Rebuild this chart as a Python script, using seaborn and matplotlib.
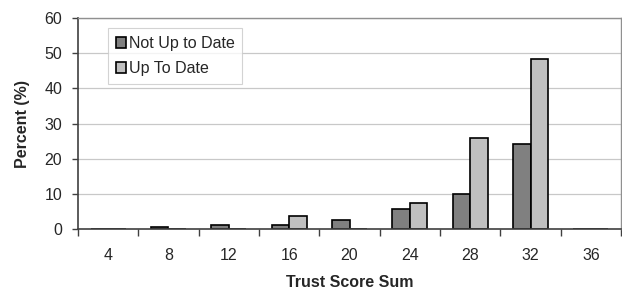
import pandas as pd
import matplotlib
matplotlib.use("Agg")
import matplotlib.pyplot as plt
import seaborn as sns
import numpy as np

# values
scores = ["4", "8", "12", "16", "20", "24", "28", "32", "36"]
not_up_to_date = [0.0, 0.6, 1.0, 1.1, 2.6, 5.6, 9.9, 24.3, 0.0]
up_to_date = [0.0, 0.0, 0.0, 3.8, 0.0, 7.4, 25.9, 48.2, 0.0]
groups = ["Not Up to Date", "Up To Date"]

df = pd.DataFrame({
    "score": scores * 2,
    "pct": not_up_to_date + up_to_date,
    "group": [groups[0]] * len(scores) + [groups[1]] * len(scores),
})

sns.set_style("white")
plt.rcParams["font.family"] = ["Liberation Sans", "DejaVu Sans"]

fig = plt.figure(figsize=(6.22, 2.95), dpi=100)
ax = fig.add_axes([0.1254, 0.2237, 0.8730, 0.7153])

sns.barplot(data=df, x="score", y="pct", hue="group", order=scores,
            palette=["#808080", "#c0c0c0"], width=0.575, gap=0,
            edgecolor="black", linewidth=1.2, ax=ax)

ax.set_ylim(0, 60)
ax.set_yticks(range(0, 61, 10))
ax.set_xlim(-0.5, len(scores) - 0.5)
ax.yaxis.grid(True, color="#c8c8c8", linewidth=0.9)
ax.set_axisbelow(True)

# ticks at category boundaries, labels centred
ax.set_xticks(np.arange(-0.5, len(scores), 1))
ax.set_xticklabels([])
ax.set_xticks(np.arange(len(scores)), minor=True)
ax.set_xticklabels(scores, minor=True)
ax.tick_params(axis="x", which="major", length=5, width=1, color="#404040", direction="out", bottom=True)
ax.tick_params(axis="x", which="minor", length=0, labelsize=11.5, pad=14)
ax.tick_params(axis="y", length=4.5, width=1, color="#404040", direction="out", left=True, labelsize=11.5, pad=7)

for s in ["left", "bottom"]:
    ax.spines[s].set_color("#404040")
    ax.spines[s].set_linewidth(1.2)
for s in ["top", "right"]:
    ax.spines[s].set_color("#909090")
    ax.spines[s].set_linewidth(1.0)

ax.set_xlabel("Trust Score Sum", fontsize=11.5, fontweight="bold", labelpad=8)
ax.set_ylabel("Percent (%)", fontsize=11.5, fontweight="bold", labelpad=10)

leg = ax.legend(loc="upper left", bbox_to_anchor=(0.055, 0.953), fontsize=11.5,
                frameon=True, fancybox=False, edgecolor="#c8c8c8",
                handlelength=0.65, handleheight=0.65, handletextpad=0.15,
                borderpad=0.5, labelspacing=0.65, borderaxespad=0)
leg.get_frame().set_linewidth(0.8)

fig.savefig("out.png", dpi=100)
